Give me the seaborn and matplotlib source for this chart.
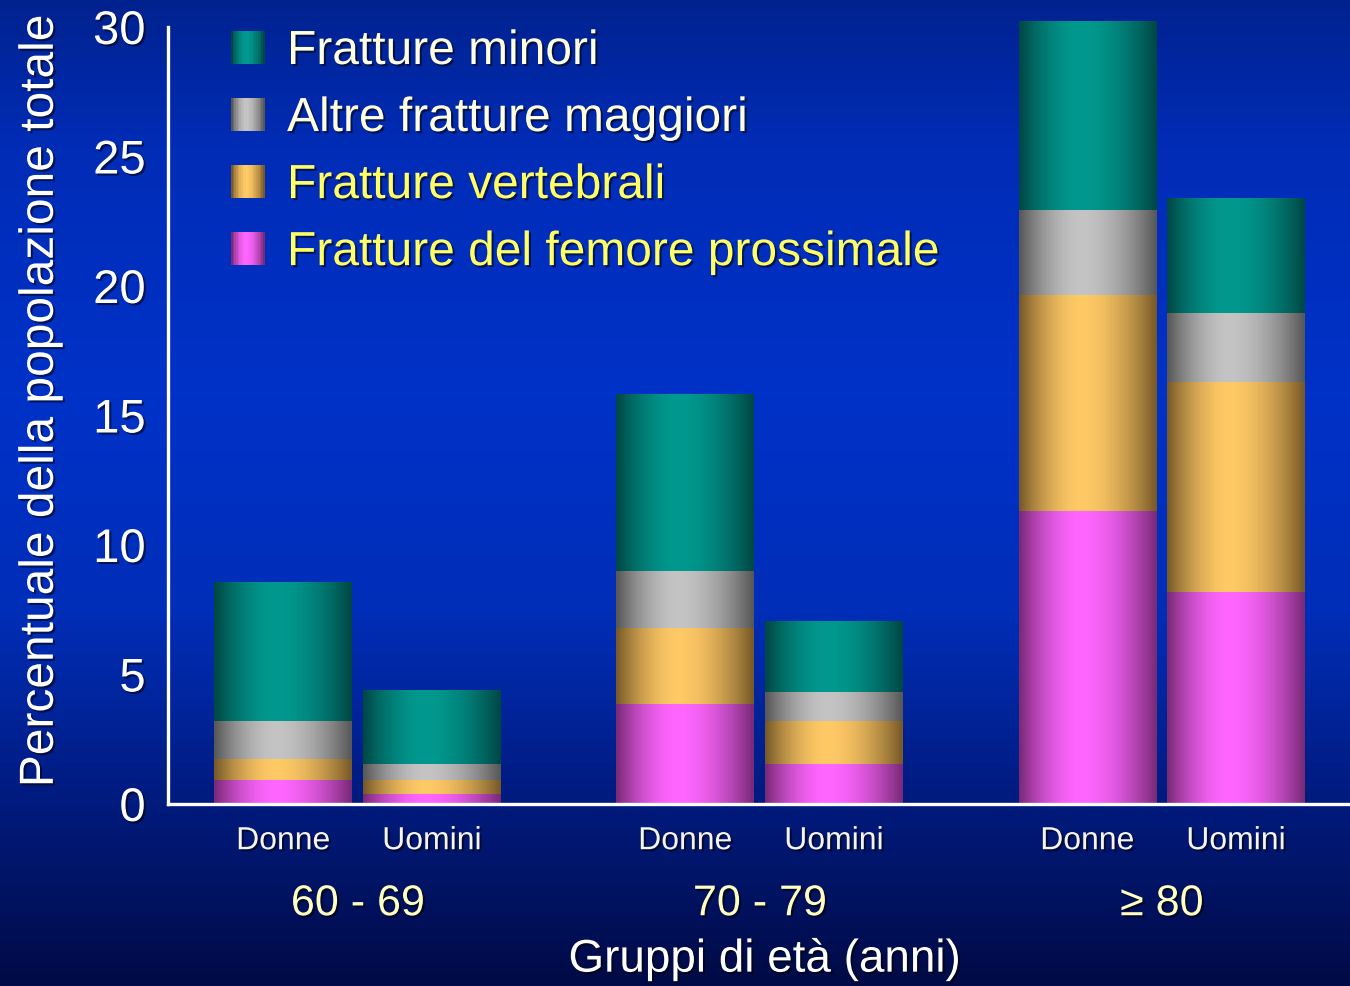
import numpy as np
import pandas as pd
import matplotlib
matplotlib.use('Agg')
import matplotlib.pyplot as plt
import matplotlib.patheffects as pe
from matplotlib.colors import LinearSegmentedColormap, to_rgb
from matplotlib.legend_handler import HandlerBase
from matplotlib.patches import Rectangle, Patch
import seaborn as sns

# dati (percentuale della popolazione totale, valori per segmento)
gruppi = ['60 - 69', '70 - 79', '≥ 80']
sessi = ['Donne', 'Uomini']
# ordine: Donne 60-69, Uomini 60-69, Donne 70-79, Uomini 70-79, Donne >=80, Uomini >=80
femore = [0.89, 0.35, 3.86, 1.51, 11.31, 8.15]
vertebrali = [0.81, 0.54, 2.90, 1.66, 8.34, 8.14]
altre_maggiori = [1.47, 0.62, 2.20, 1.15, 3.25, 2.63]
minori = [5.40, 2.89, 6.87, 2.71, 7.30, 4.44]

serie = ['Fratture del femore prossimale', 'Fratture vertebrali',
         'Altre fratture maggiori', 'Fratture minori']
valori = [femore, vertebrali, altre_maggiori, minori]
# (chiaro, scuro) per la sfumatura
colori = {
    'Fratture del femore prossimale': ('#ff66ff', '#7a2a78'),
    'Fratture vertebrali': ('#ffc966', '#785a28'),
    'Altre fratture maggiori': ('#c4c4c4', '#585858'),
    'Fratture minori': ('#00998f', '#004845'),
}
colori_testo = {
    'Fratture minori': '#ffffe0',
    'Altre fratture maggiori': '#ffffe0',
    'Fratture vertebrali': '#ffff66',
    'Fratture del femore prossimale': '#ffff66',
}

df = pd.DataFrame({'gruppo': np.repeat(gruppi, 2), 'sesso': sessi * 3})
cumulato = np.cumsum(np.array(valori), axis=0)
for nome, c in zip(serie, cumulato):
    df[nome] = c


def sfumatura(chiaro, scuro, n=64):
    t = np.linspace(0, 1, n)
    picco = 0.45
    d = np.where(t < picco, (picco - t) / picco, (t - picco) / (1 - picco))
    m = np.clip(1 - d ** 1.8, 0, 1)[:, None]
    c1, c2 = np.array(to_rgb(chiaro)), np.array(to_rgb(scuro))
    return c2 + (c1 - c2) * m


class GradientHandler(HandlerBase):
    def __init__(self, chiaro, scuro):
        super().__init__()
        self.col = sfumatura(chiaro, scuro, 20)

    def create_artists(self, legend, orig_handle, xdescent, ydescent,
                       width, height, fontsize, trans):
        n = len(self.col)
        w = width / n
        return [Rectangle((-xdescent + i * w, -ydescent), w * 1.05, height,
                          facecolor=self.col[i], edgecolor='none', transform=trans)
                for i in range(n)]


sns.set_theme(style='white')
plt.rcParams['font.family'] = ['Liberation Sans', 'DejaVu Sans']

fig = plt.figure(figsize=(13.5, 9.87), dpi=100)

# sfondo sfumato
bg = fig.add_axes([0, 0, 1, 1], zorder=-10)
cmap_bg = LinearSegmentedColormap.from_list('bg', [
    (0.0, '#00228f'), (0.15, '#002cb6'), (0.4, '#0032c8'),
    (0.62, '#002eb8'), (0.82, '#001a7c'), (1.0, '#000a45')])
bg.imshow(np.linspace(0, 1, 256)[:, None], cmap=cmap_bg, aspect='auto',
          extent=[0, 1, 0, 1])
bg.set_axis_off()

ax = fig.add_axes([168 / 1350, 1 - 805 / 987, 1 - 168 / 1350, (805 - 28) / 987])
ax.set_facecolor('none')

ombra = [pe.withSimplePatchShadow(offset=(1.5, -1.5), shadow_rgbFace='black', alpha=0.55)]

# barre impilate: dal totale verso il basso
for k in range(len(serie) - 1, -1, -1):
    nome = serie[k]
    chiaro, scuro = colori[nome]
    prima = len(ax.patches)
    sns.barplot(data=df, x='gruppo', y=nome, hue='sesso', order=gruppi,
                hue_order=sessi, palette={s: chiaro for s in sessi},
                dodge=True, width=0.74, gap=0.073, errorbar=None,
                legend=False, ax=ax)
    img = sfumatura(chiaro, scuro)[None, :, :]
    for p in ax.patches[prima:]:
        x, w, h = p.get_x(), p.get_width(), p.get_height()
        ax.imshow(img, extent=[x, x + w, 0, h], aspect='auto',
                  interpolation='bilinear', zorder=3 + (len(serie) - k),
                  clip_on=False)
        p.set_visible(False)

centri = sorted(p.get_x() + p.get_width() / 2 for p in ax.patches[-6:])

ax.set_xlim(-0.472, 2.468)
ax.set_ylim(0, 30)
ax.set_yticks(range(0, 31, 5))
ax.set_xticks(centri)
ax.set_xticklabels(sessi * 3)

for s in ['top', 'right']:
    ax.spines[s].set_visible(False)
for s in ['left', 'bottom']:
    ax.spines[s].set_color('white')
    ax.spines[s].set_linewidth(2.4)
    ax.spines[s].set_zorder(10)
ax.spines['left'].set_bounds(0, 30)

ax.tick_params(axis='y', colors='white', labelsize=34, length=8, width=2.4, pad=8)
ax.tick_params(axis='x', colors='#f5f5f5', labelsize=23, length=0, pad=16)
for t in ax.get_xticklabels() + ax.get_yticklabels():
    t.set_path_effects(ombra)

for i, g in enumerate(gruppi):
    ax.text(i, -0.129, g, transform=ax.get_xaxis_transform(), ha='center',
            va='center', fontsize=31, color='#ffffc0', path_effects=ombra)

ax.set_xlabel('Gruppi di età (anni)', fontsize=33, color='white',
              path_effects=ombra)
ax.xaxis.label.set_va('center')
ax.xaxis.set_label_coords(0.505, -0.2)
ax.set_ylabel('Percentuale della popolazione totale', fontsize=34.5,
              color='white', path_effects=ombra)
ax.yaxis.label.set_va('center')
ax.yaxis.set_label_coords(-0.108, 0.519)

# legenda con quadratini sfumati
ordine_leg = serie[::-1]
maniglie = [Patch(label=n) for n in ordine_leg]
mappa = {h: GradientHandler(*colori[n]) for h, n in zip(maniglie, ordine_leg)}
leg = ax.legend(handles=maniglie, handler_map=mappa, loc='upper left',
                bbox_to_anchor=(231 / 1350, 1 - 30 / 987),
                bbox_transform=fig.transFigure, frameon=False, fontsize=34.5,
                handlelength=0.7, handleheight=0.68, handletextpad=0.47,
                labelspacing=0.46, borderpad=0, borderaxespad=0)
for t, n in zip(leg.get_texts(), ordine_leg):
    t.set_color(colori_testo[n])
    t.set_path_effects(ombra)

fig.savefig('out.png', dpi=100)
